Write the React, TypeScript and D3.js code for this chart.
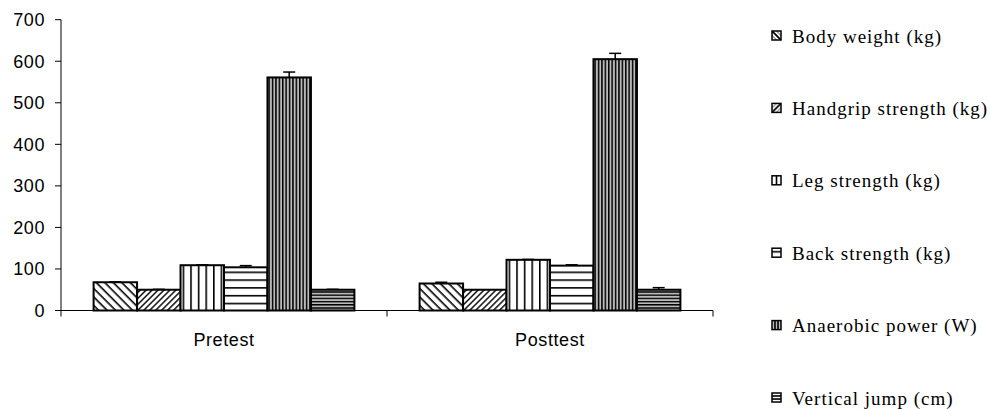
import React from "react";
import * as d3 from "d3";

const categories = ["Pretest", "Posttest"];
const series = [
  "Body weight (kg)",
  "Handgrip strength (kg)",
  "Leg strength (kg)",
  "Back strength (kg)",
  "Anaerobic power (W)",
  "Vertical jump (cm)",
];
const pretest = [68, 50, 109, 104, 561, 50];
const posttest = [65, 50, 122, 108, 605, 50];
const pretestErr = [1, 1, 1, 4, 13, 1];
const posttestErr = [3, 0, 1, 2, 14, 5];
const yTicks = [0, 100, 200, 300, 400, 500, 600, 700];

const W = 990;
const H = 409;
const left = 61;
const right = 713;
const y0 = 310.5;
const yTop = 19.7;

const patternIds = ["p-bw", "p-hg", "p-leg", "p-back", "p-an", "p-vj"];
const legendIds = ["l-bw", "l-hg", "l-leg", "l-back", "l-an", "l-vj"];

export default function App() {
  const y = d3.scaleLinear().domain([0, 700]).range([y0, yTop]);
  const x = d3.scaleBand<string>().domain(categories).range([left, right]).padding(0);
  const xs = d3
    .scaleBand<string>()
    .domain(series)
    .range([0, x.bandwidth()])
    .paddingInner(0)
    .paddingOuter(0.75);
  const data = [pretest, posttest];
  const errs = [pretestErr, posttestErr];
  const legendY = d3.scalePoint<string>().domain(series).range([36, 398]);

  return (
    <svg
      width={W}
      height={H}
      style={{ position: "absolute", left: 0, top: 0, background: "#fff" }}
    >
      <defs>
        <pattern id="p-bw" width="6" height="6" patternUnits="userSpaceOnUse" patternTransform="rotate(45)">
          <rect width="6" height="6" fill="#fff" />
          <rect x="0" y="0" width="6" height="1.6" fill="#000" />
        </pattern>
        <pattern id="p-hg" width="4.2" height="4.2" patternUnits="userSpaceOnUse" patternTransform="rotate(-45)">
          <rect width="4.2" height="4.2" fill="#fff" />
          <rect x="0" y="0" width="4.2" height="1.4" fill="#000" />
        </pattern>
        <pattern id="p-leg" width="7.6" height="10" patternUnits="userSpaceOnUse">
          <rect width="7.6" height="10" fill="#fff" />
          <rect x="0" y="0" width="1.6" height="10" fill="#000" />
        </pattern>
        <pattern id="p-back" width="10" height="7.8" patternUnits="userSpaceOnUse" y={y0}>
          <rect width="10" height="7.8" fill="#fff" />
          <rect x="0" y="0" width="10" height="1.6" fill="#000" />
        </pattern>
        <pattern id="p-an" width="3.4" height="10" patternUnits="userSpaceOnUse">
          <rect width="3.4" height="10" fill="#bbb" />
          <rect x="0" y="0" width="1.5" height="10" fill="#000" />
        </pattern>
        <pattern id="p-vj" width="10" height="3.2" patternUnits="userSpaceOnUse" y={y0}>
          <rect width="10" height="3.2" fill="#bbb" />
          <rect x="0" y="0" width="10" height="1.4" fill="#000" />
        </pattern>
        <pattern id="l-bw" width="1" height="1" patternContentUnits="objectBoundingBox">
          <rect width="1" height="1" fill="#fff" />
          <line x1="0" y1="0" x2="1" y2="1" stroke="#000" strokeWidth="0.2" />
          <line x1="0.5" y1="0" x2="1" y2="0.5" stroke="#888" strokeWidth="0.12" />
          <line x1="0" y1="0.5" x2="0.5" y2="1" stroke="#888" strokeWidth="0.12" />
        </pattern>
        <pattern id="l-hg" width="1" height="1" patternContentUnits="objectBoundingBox">
          <rect width="1" height="1" fill="#fff" />
          <line x1="0" y1="1" x2="1" y2="0" stroke="#000" strokeWidth="0.2" />
          <line x1="0" y1="0.5" x2="0.5" y2="0" stroke="#888" strokeWidth="0.12" />
          <line x1="0.5" y1="1" x2="1" y2="0.5" stroke="#888" strokeWidth="0.12" />
        </pattern>
        <pattern id="l-leg" width="1" height="1" patternContentUnits="objectBoundingBox">
          <rect width="1" height="1" fill="#fff" />
          <line x1="0.5" y1="0" x2="0.5" y2="1" stroke="#000" strokeWidth="0.18" />
        </pattern>
        <pattern id="l-back" width="1" height="1" patternContentUnits="objectBoundingBox">
          <rect width="1" height="1" fill="#fff" />
          <line x1="0" y1="0.4" x2="1" y2="0.4" stroke="#000" strokeWidth="0.18" />
        </pattern>
        <pattern id="l-an" width="1" height="1" patternContentUnits="objectBoundingBox">
          <rect width="1" height="1" fill="#bbb" />
          <line x1="0.33" y1="0" x2="0.33" y2="1" stroke="#000" strokeWidth="0.18" />
          <line x1="0.67" y1="0" x2="0.67" y2="1" stroke="#000" strokeWidth="0.18" />
        </pattern>
        <pattern id="l-vj" width="1" height="1" patternContentUnits="objectBoundingBox">
          <rect width="1" height="1" fill="#fff" />
          <line x1="0" y1="0.33" x2="1" y2="0.33" stroke="#000" strokeWidth="0.18" />
          <line x1="0" y1="0.67" x2="1" y2="0.67" stroke="#000" strokeWidth="0.18" />
        </pattern>
      </defs>

      <line x1={left} x2={left} y1={yTop} y2={y0} stroke="#000" strokeWidth={1} />
      {yTicks.map((t) => (
        <g key={t}>
          <line x1={left - 6} x2={left} y1={y(t)} y2={y(t)} stroke="#000" strokeWidth={1} />
          <text
            x={45}
            y={y(t)}
            dy="0.36em"
            textAnchor="end"
            fontFamily="Liberation Sans, Arial, sans-serif"
            fontSize={18}
            letterSpacing={0.6}
            fill="#000"
          >
            {t}
          </text>
        </g>
      ))}

      {categories.map((c, ci) => (
        <g key={c} transform={`translate(${x(c)},0)`}>
          {series.map((s, si) => {
            const v = data[ci][si];
            const e = errs[ci][si];
            const bx = xs(s)!;
            const bw = xs.bandwidth();
            const cx = bx + bw / 2;
            return (
              <g key={s}>
                {e > 0 && (
                  <g stroke="#000" strokeWidth={1.5}>
                    <line x1={cx} x2={cx} y1={y(v)} y2={y(v + e)} />
                    <line x1={cx - 6} x2={cx + 6} y1={y(v + e)} y2={y(v + e)} />
                  </g>
                )}
                <rect
                  x={bx}
                  y={y(v)}
                  width={bw}
                  height={y0 - y(v)}
                  fill={`url(#${patternIds[si]})`}
                  stroke="#000"
                  strokeWidth={2}
                />
              </g>
            );
          })}
        </g>
      ))}

      <line x1={left} x2={right} y1={y0} y2={y0} stroke="#000" strokeWidth={1} />
      {[left, x("Posttest")!, right].map((tx, i) => (
        <line key={i} x1={tx} x2={tx} y1={y0} y2={y0 + 6} stroke="#000" strokeWidth={1} />
      ))}
      {categories.map((c) => (
        <text
          key={c}
          x={x(c)! + x.bandwidth() / 2}
          y={346}
          textAnchor="middle"
          fontFamily="Liberation Sans, Arial, sans-serif"
          fontSize={18}
          letterSpacing={0.6}
          fill="#000"
        >
          {c}
        </text>
      ))}

      {series.map((s, si) => {
        const ly = legendY(s)!;
        return (
          <g key={s}>
            <rect
              x={772}
              y={ly - 5}
              width={9}
              height={9}
              fill={`url(#${legendIds[si]})`}
              stroke="#000"
              strokeWidth={1.5}
            />
            <text
              x={792}
              y={ly}
              dy="0.35em"
              fontFamily="Liberation Serif, Times New Roman, serif"
              fontSize={19}
              letterSpacing={1}
              fill="#000"
            >
              {s}
            </text>
          </g>
        );
      })}
    </svg>
  );
}
